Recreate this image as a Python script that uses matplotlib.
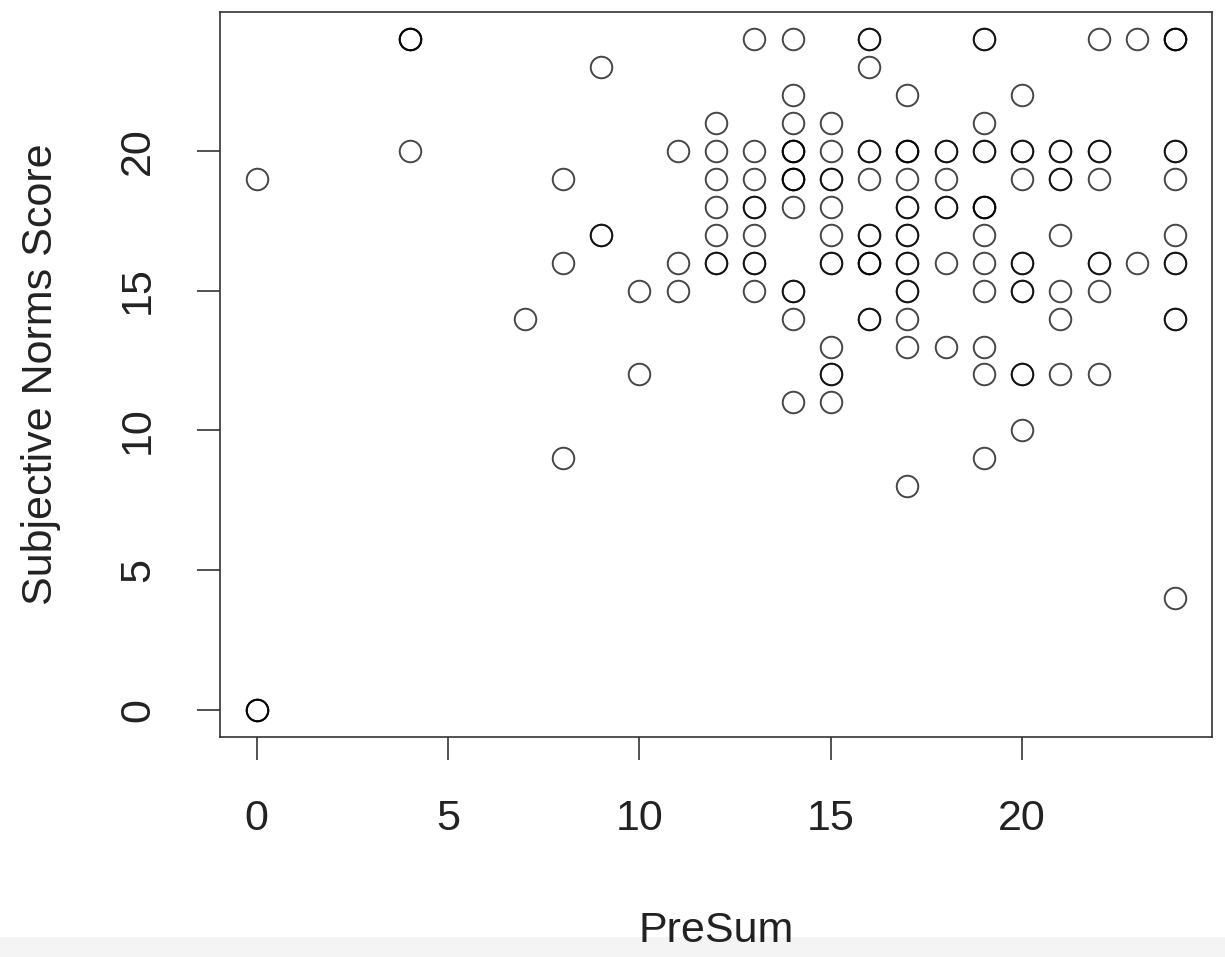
import numpy as np
import matplotlib.pyplot as plt
from matplotlib.patches import Rectangle

plt.rcParams['font.family'] = ['Liberation Sans', 'DejaVu Sans']

# PreSum value and the subjective norms scores seen in that column (repeats = overplotted points)
columns = {
    0: [19, 0, 0, 0],
    4: [24, 24, 24, 20],
    7: [14],
    8: [19, 16, 9],
    9: [23, 17, 17],
    10: [15, 12],
    11: [20, 16, 15],
    12: [21, 20, 19, 18, 17, 16, 16],
    13: [24, 20, 19, 18, 18, 17, 16, 16, 15],
    14: [24, 22, 21, 20, 20, 20, 19, 19, 19, 18, 15, 15, 14, 11],
    15: [21, 20, 19, 19, 18, 17, 16, 16, 13, 12, 12, 11],
    16: [24, 24, 23, 20, 20, 19, 17, 17, 16, 16, 16, 14, 14],
    17: [22, 20, 20, 20, 19, 18, 18, 17, 17, 16, 16, 15, 15, 14, 13, 8],
    18: [20, 20, 19, 18, 18, 16, 13],
    19: [24, 24, 21, 20, 20, 18, 18, 18, 17, 16, 15, 13, 12, 9],
    20: [22, 20, 20, 19, 16, 16, 15, 15, 12, 12, 10],
    21: [20, 20, 19, 19, 17, 15, 14, 12],
    22: [24, 20, 20, 19, 16, 16, 15, 12],
    23: [24, 16],
    24: [24, 24, 24, 20, 20, 19, 17, 16, 16, 14, 14, 4],
}

presum = []
norms = []
for k, v in columns.items():
    presum += [k] * len(v)
    norms += v

fig = plt.figure(figsize=(12.25, 9.57), dpi=100)
# faint grey strip at the very bottom of the screenshot
fig.patches.append(Rectangle((0, 0), 1, 0.021, transform=fig.transFigure,
                             facecolor='#f4f4f4', edgecolor='none', zorder=-1))
ax = fig.add_axes([0.1796, 0.2299, 0.8098, 0.7576])

ax.plot(presum, norms, 'o', ms=15.5, mfc='none', mec=(0, 0, 0, 0.72), mew=1.4)

ax.set_xlim(-0.96, 24.96)
ax.set_ylim(-0.96, 24.96)
ax.set_xticks([0, 5, 10, 15, 20])
ax.set_yticks([0, 5, 10, 15, 20])

for s in ax.spines.values():
    s.set_color('#333333')
    s.set_linewidth(1.2)
ax.tick_params(direction='out', length=16.5, width=1.2, color='#333333',
               labelsize=31, labelcolor='#222222', pad=28)
for lab in ax.get_yticklabels():
    lab.set_rotation(90)
    lab.set_va('center')

ax.set_xlabel('PreSum', fontsize=31, color='#222222', labelpad=52)
ax.set_ylabel('Subjective Norms Score', fontsize=31, color='#222222', labelpad=41)

fig.savefig('out.png', dpi=100)
